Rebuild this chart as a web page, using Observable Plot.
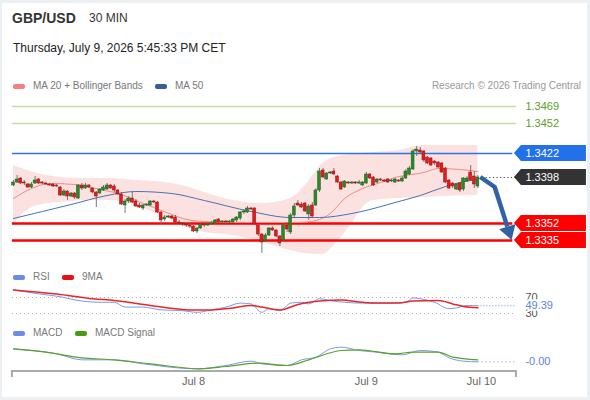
<!DOCTYPE html>
<html><head><meta charset="utf-8">
<script src="https://cdn.jsdelivr.net/npm/d3@7"></script>
<script src="https://cdn.jsdelivr.net/npm/@observablehq/plot@0.6"></script>
<style>
body{margin:0;background:#edf0f3;font-family:"Liberation Sans",Arial,sans-serif;}
#wrap{position:relative;width:590px;height:400px;overflow:hidden;}
#card{position:absolute;left:2px;top:3px;width:585px;height:394px;background:#fff;}
.abs{position:absolute;white-space:nowrap;}
.leg{font-size:10px;color:#777;line-height:12px;}
.sw{position:absolute;width:12px;height:5px;border-radius:2px;}
#wrap svg{position:absolute;left:0;}
</style></head><body>
<div id="wrap"><div id="card"></div>
<div class="abs" style="left:12px;top:10px;font-size:14px;line-height:16px;font-weight:bold;color:#333">GBP/USD</div>
<div class="abs" style="left:89px;top:11px;font-size:12px;line-height:14px;color:#333">30 MIN</div>
<div class="abs" style="left:13px;top:41px;font-size:12px;line-height:14px;color:#222">Thursday, July 9, 2026 5:45:33 PM CET</div>

<div class="sw" style="left:13px;top:83.5px;background:#f77f7f"></div>
<div class="abs leg" style="left:33px;top:80px">MA 20 + Bollinger Bands</div>
<div class="sw" style="left:155px;top:83.5px;background:#375d9c"></div>
<div class="abs leg" style="left:175px;top:80px">MA 50</div>
<div class="abs leg" style="right:9px;top:80px;color:#999">Research © 2026 Trading Central</div>

<div class="sw" style="left:13px;top:274.5px;background:#6b8de3"></div>
<div class="abs leg" style="left:33px;top:271px">RSI</div>
<div class="sw" style="left:62px;top:274.5px;background:#e61010"></div>
<div class="abs leg" style="left:82px;top:271px">9MA</div>

<div class="sw" style="left:13px;top:330.5px;background:#6b8de3"></div>
<div class="abs leg" style="left:33px;top:327px">MACD</div>
<div class="sw" style="left:75px;top:330.5px;background:#4c9a12"></div>
<div class="abs leg" style="left:95px;top:327px">MACD Signal</div>
</div>
<script>
// ---------- DATA ----------
const open = [1.3390,1.3393,1.3397,1.3393,1.3391,1.3388,1.3392,1.3396,1.3393,1.3392, 1.3391,1.3391,1.3390,1.3388,1.3380,1.3384,1.3379,1.3382,1.3377,1.3390, 1.3387,1.3390,1.3387,1.3383,1.3382,1.3385,1.3386,1.3390,1.3389,1.3385, 1.3381,1.3370,1.3374,1.3377,1.3374,1.3370,1.3367,1.3370,1.3370,1.3374, 1.3373,1.3363,1.3356,1.3358,1.3359,1.3358,1.3353,1.3352,1.3351,1.3350, 1.3349,1.3344,1.3347,1.3351,1.3350,1.3351,1.3352,1.3356,1.3353,1.3354, 1.3353,1.3353,1.3355,1.3357,1.3363,1.3363,1.3367,1.3367,1.3350,1.3341, 1.3334,1.3340,1.3347,1.3345,1.3339,1.3335,1.3350,1.3343,1.3360,1.3372, 1.3371,1.3372,1.3361,1.3370,1.3370,1.3385,1.3405,1.3396,1.3402,1.3404, 1.3399,1.3393,1.3388,1.3393,1.3392,1.3393,1.3392,1.3390,1.3392,1.3401, 1.3398,1.3393,1.3396,1.3395,1.3396,1.3394,1.3393,1.3395,1.3394,1.3397, 1.3401,1.3406,1.3424,1.3425,1.3424,1.3418,1.3417,1.3414,1.3413,1.3412, 1.3407,1.3395,1.3392,1.3386,1.3392,1.3386,1.3394,1.3403,1.3399,1.3389];
const high = [1.3395,1.3400,1.3398,1.3395,1.3392,1.3393,1.3399,1.3397,1.3394,1.3393, 1.3392,1.3392,1.3391,1.3389,1.3386,1.3385,1.3383,1.3383,1.3391,1.3392, 1.3392,1.3391,1.3388,1.3384,1.3387,1.3390,1.3392,1.3391,1.3391,1.3386, 1.3383,1.3376,1.3379,1.3383,1.3376,1.3372,1.3371,1.3372,1.3375,1.3375, 1.3374,1.3364,1.3360,1.3360,1.3360,1.3360,1.3355,1.3353,1.3352,1.3352, 1.3350,1.3348,1.3352,1.3352,1.3353,1.3354,1.3356,1.3357,1.3355,1.3355, 1.3355,1.3357,1.3359,1.3364,1.3366,1.3369,1.3368,1.3368,1.3351,1.3342, 1.3342,1.3348,1.3349,1.3346,1.3340,1.3352,1.3353,1.3362,1.3372,1.3375, 1.3373,1.3373,1.3371,1.3373,1.3387,1.3407,1.3407,1.3403,1.3404,1.3407, 1.3400,1.3394,1.3395,1.3394,1.3394,1.3394,1.3395,1.3394,1.3403,1.3402, 1.3399,1.3397,1.3397,1.3396,1.3397,1.3396,1.3397,1.3396,1.3399,1.3406, 1.3409,1.3426,1.3429,1.3428,1.3425,1.3419,1.3418,1.3415,1.3414,1.3413, 1.3408,1.3396,1.3393,1.3392,1.3393,1.3398,1.3399,1.3410,1.3404,1.3400];
const low = [1.3389,1.3392,1.3391,1.3390,1.3387,1.3387,1.3391,1.3391,1.3391,1.3390, 1.3389,1.3388,1.3388,1.3379,1.3379,1.3375,1.3378,1.3376,1.3376,1.3385, 1.3386,1.3387,1.3382,1.3368,1.3381,1.3384,1.3385,1.3386,1.3383,1.3380, 1.3370,1.3362,1.3372,1.3372,1.3368,1.3367,1.3365,1.3369,1.3369,1.3372, 1.3362,1.3350,1.3354,1.3357,1.3356,1.3352,1.3350,1.3349,1.3348,1.3347, 1.3343,1.3342,1.3346,1.3348,1.3349,1.3350,1.3351,1.3352,1.3352,1.3351, 1.3352,1.3352,1.3353,1.3355,1.3361,1.3362,1.3365,1.3350,1.3339,1.3322, 1.3333,1.3339,1.3344,1.3338,1.3329,1.3333,1.3343,1.3341,1.3358,1.3369, 1.3367,1.3363,1.3355,1.3358,1.3369,1.3383,1.3397,1.3395,1.3401,1.3400, 1.3392,1.3385,1.3387,1.3391,1.3391,1.3391,1.3391,1.3389,1.3391,1.3396, 1.3389,1.3392,1.3394,1.3393,1.3392,1.3393,1.3392,1.3393,1.3393,1.3396, 1.3400,1.3405,1.3419,1.3421,1.3413,1.3411,1.3409,1.3410,1.3407,1.3402, 1.3392,1.3386,1.3387,1.3385,1.3383,1.3384,1.3393,1.3394,1.3387,1.3387];
const close = [1.3393,1.3396,1.3392,1.3392,1.3388,1.3391,1.3395,1.3392,1.3392,1.3391, 1.3390,1.3389,1.3389,1.3380,1.3384,1.3379,1.3382,1.3378,1.3390,1.3387, 1.3390,1.3388,1.3383,1.3379,1.3386,1.3388,1.3390,1.3387,1.3385,1.3381, 1.3371,1.3374,1.3377,1.3373,1.3369,1.3368,1.3370,1.3371,1.3374,1.3373, 1.3363,1.3355,1.3358,1.3359,1.3357,1.3353,1.3352,1.3351,1.3350,1.3349, 1.3344,1.3347,1.3351,1.3350,1.3351,1.3352,1.3355,1.3353,1.3354,1.3353, 1.3354,1.3356,1.3358,1.3363,1.3364,1.3367,1.3366,1.3351,1.3341,1.3333, 1.3340,1.3347,1.3345,1.3339,1.3332,1.3350,1.3346,1.3360,1.3369,1.3370, 1.3368,1.3364,1.3369,1.3359,1.3385,1.3404,1.3398,1.3402,1.3403,1.3401, 1.3393,1.3386,1.3394,1.3392,1.3393,1.3392,1.3393,1.3393,1.3401,1.3397, 1.3390,1.3396,1.3395,1.3394,1.3393,1.3395,1.3396,1.3394,1.3397,1.3404, 1.3407,1.3424,1.3426,1.3423,1.3415,1.3412,1.3410,1.3412,1.3408,1.3403, 1.3393,1.3387,1.3389,1.3391,1.3385,1.3397,1.3397,1.3395,1.3391,1.3398];

// moving averages / bands read at sample candles
const ma50Idx = [0,8,16,26,34,44,53,66,77,85,94,99,106,113,120,124,129];
const ma50 = [1.3357,1.3364,1.3371,1.3380,1.3384,1.3382,1.3375,1.3364,1.3358,1.3358,1.3362,1.3366,1.3373,1.3380,1.3389,1.3393,1.3396];
const ma20Idx = [0,5,10,17,24,30,34,39,44,48,53,61,69,79,84,88,92,97,102,106,114,118,124,129];
const ma20 = [1.3377,1.3387,1.3392,1.3391,1.3386,1.3381,1.3375,1.3368,1.3361,1.3356,1.3354,1.3353,1.3353,1.3353,1.3355,1.3362,1.3377,1.3387,1.3393,1.3398,1.3403,1.3407,1.3406,1.3404];
const bbIdx = [0,3,8,13,21,27,34,39,44,49,53,61,69,77,81,86,89,94,97,100,107,114,119,129];
const bbUpper = [1.3410,1.3406,1.3401,1.3398,1.3397,1.3397,1.3395,1.3394,1.3392,1.3388,1.3383,1.3375,1.3372,1.3377,1.3390,1.3412,1.3418,1.3421,1.3422,1.3423,1.3425,1.3430,1.3430,1.3430];
const bbLower = [1.3350,1.3363,1.3371,1.3373,1.3375,1.3375,1.3370,1.3363,1.3355,1.3347,1.3343,1.3340,1.3333,1.3325,1.3322,1.3321,1.3330,1.3352,1.3368,1.3375,1.3377,1.3378,1.3379,1.3380];

// key levels
const levelValues = [1.3469, 1.3452, 1.3422, 1.3398, 1.3352, 1.3335];
const levelTypes = ["target", "target", "resistance", "last", "support", "support"];

// RSI panel
const rsiIdx = [0,7,13,17,24,28,31,36,41,47,51,55,59,63,66,69,71,74,77,80,82,85,88,92,97,101,105,109,111,113,117,121,123,126,129];
const rsi = [89,79,72,64,58,58,46,46,39,37,33,39,46,56,54,33,42,37,56,58,54,67,62,58,56,56,56,58,69,67,58,42,44,50,49.39];
const rsiMaIdx = [0,12,22,28,38,49,55,61,66,69,74,79,85,91,97,101,107,111,118,122,125,129];
const rsiMa = [89,79,67,62.5,50,39,39,44,50,46,39,52.5,61,64,58,56,56,61,62.5,54,47.5,44.5];
const rsiLevels = [70, 30];

// MACD panel
const macdIdx = [0,12,19,28,36,51,59,66,69,76,80,84,88,91,96,101,108,113,118,121,125,129];
const macd = [0.00038,0.00023,0.00005,0.00005,-0.00007,-0.00022,-0.00012,0.00001,-0.00007,-0.00012,0.00005,0.00013,0.00038,0.00043,0.00033,0.00028,0.00020,0.00033,0.00028,0.00011,0.00001,-0.00001];
const signalIdx = [0,9,19,28,38,52,59,68,76,82,91,96,106,111,118,122,129];
const signal = [0.00038,0.00028,0.00011,0.00005,-0.00007,-0.00022,-0.00015,-0.00005,-0.00012,0.00005,0.00033,0.00035,0.00023,0.00028,0.00028,0.00013,0.00005];

// time axis
const xTickIdx = [50, 98, 130];
const xTickLabels = ["Jul 8", "Jul 9", "Jul 10"];

// ---------- BUILD ----------
const W = 590;
const XDOM = [-13 / 3.6, (W - 13) / 3.6];
const LINE_START = -0.3, LINE_END = 139.7, LABEL_X = 142.2;
const LAST = close.length - 1;
const FONT = "'Liberation Sans', Arial, sans-serif";

const candles = close.map((c, i) => ({i, o: open[i], h: high[i], l: low[i], c, up: c >= open[i]}));
const pts = (idx, vals) => idx.map((i, k) => ({i, v: vals[k]}));
const band = bbIdx.map((i, k) => ({i, hi: bbUpper[k], lo: bbLower[k]}));
const levels = levelValues.map((v, k) => ({v, type: levelTypes[k]}));

const boxColor = {resistance: "#2271ea", last: "#333333", support: "#ff0000"};
const lineColor = {target: "#c6dca6", resistance: "#2f73e6", support: "#ff0000"};
const lineWidth = {target: 1.5, resistance: 1.5, support: 2.5};

function boxes(index, scales) {
  const g = d3.create("svg:g");
  for (const d of levels) {
    if (!boxColor[d.type]) continue;
    const y = scales.y(d.v), t = scales.x(LINE_END) - 2;
    g.append("path")
      .attr("d", `M${t},${y}L${t + 7},${y - 8}H${t + 72}V${y + 8}H${t + 7}Z`)
      .attr("fill", boxColor[d.type]);
  }
  return g.node();
}

function arrow(index, scales) {
  const p = [
    [scales.x(LAST + 0.8), scales.y(close[LAST])],
    [scales.x(LAST + 4.8), scales.y(close[LAST] - 0.0010)],
    [scales.x(LINE_END - 1.2), scales.y(levelValues[5])]
  ];
  const [x1, y1] = p[1], [x2, y2] = p[2];
  const len = Math.hypot(x2 - x1, y2 - y1), ux = (x2 - x1) / len, uy = (y2 - y1) / len;
  const hl = 14, hw = 8.5;
  const bx = x2 - ux * hl, by = y2 - uy * hl;
  const g = d3.create("svg:g");
  g.append("path")
    .attr("d", `M${p[0][0]},${p[0][1]}L${x1},${y1}L${bx},${by}`)
    .attr("fill", "none").attr("stroke", "#3262a5").attr("stroke-width", 4.5)
    .attr("stroke-linejoin", "round");
  g.append("path")
    .attr("d", `M${x2},${y2}L${bx - uy * hw},${by + ux * hw}L${bx + uy * hw},${by - ux * hw}Z`)
    .attr("fill", "#3262a5");
  return g.node();
}

const wrap = document.getElementById("wrap");
function place(svg, top) { svg.style.top = top + "px"; wrap.appendChild(svg); }

const common = {width: W, marginLeft: 0, marginRight: 0,
  style: {background: "transparent", fontFamily: FONT, overflow: "visible"}};
const xScale = {domain: XDOM, range: [0, W], axis: null};

// price panel
const price = Plot.plot({
  ...common, height: 165, marginTop: 0, marginBottom: 0,
  x: xScale,
  y: {domain: [1.3314, 1.3479], range: [165, 0], axis: null},
  marks: [
    Plot.areaY(band, {x: "i", y1: "lo", y2: "hi", fill: "#fcdcdc", fillOpacity: 0.85, curve: "monotone-x"}),
    ...["target", "resistance", "support"].map(t =>
      Plot.ruleY(levels.filter(d => d.type === t), {y: "v", x1: LINE_START, x2: t === "target" ? LINE_END : LINE_END - 1, stroke: lineColor[t], strokeWidth: lineWidth[t]})),
    Plot.line(pts(ma20Idx, ma20), {x: "i", y: "v", stroke: "#f08a8a", strokeWidth: 1, curve: "monotone-x"}),
    Plot.line(pts(ma50Idx, ma50), {x: "i", y: "v", stroke: "#4a72b0", strokeWidth: 1, curve: "monotone-x"}),
    Plot.ruleX(candles, {x: "i", y1: "l", y2: "h", stroke: "#6b6b6b", strokeWidth: 0.9}),
    Plot.rect(candles.filter(d => d.up), {x1: d => d.i - 0.4, x2: d => d.i + 0.4, y1: "o", y2: "c", fill: "#2a8a2a", stroke: "#1c5c1c", strokeWidth: 0.5}),
    Plot.rect(candles.filter(d => !d.up), {x1: d => d.i - 0.4, x2: d => d.i + 0.4, y1: "o", y2: "c", fill: "#e41b1b", stroke: "#9c1010", strokeWidth: 0.5}),
    Plot.ruleY([close[LAST]], {x1: LAST + 1.3, x2: LINE_END, stroke: "#444", strokeDasharray: "1.2,2.4"}),
    boxes,
    Plot.text(levels.filter(d => d.type === "target"), {x: LABEL_X, y: "v", text: d => d.v.toFixed(4), fill: "#5b9f1f", textAnchor: "start", fontSize: 11}),
    Plot.text(levels.filter(d => d.type !== "target"), {x: LABEL_X, y: "v", text: d => d.v.toFixed(4), fill: "white", textAnchor: "start", fontSize: 11}),
    arrow
  ]
});
place(price, 96);

// RSI panel
const rsiLast = rsi[rsi.length - 1];
const rsiPlot = Plot.plot({
  ...common, height: 44, marginTop: 0, marginBottom: 0,
  x: xScale,
  y: {domain: [0, 100], range: [42, 2], axis: null},
  marks: [
    Plot.ruleY(rsiLevels, {y: d => d, x1: LINE_START, x2: LINE_END, stroke: "#aaa", strokeDasharray: "1,3"}),
    Plot.ruleY([rsiLast], {x1: rsiIdx[rsiIdx.length - 1], x2: LINE_END, stroke: "#6f8fe0", strokeDasharray: "1,2"}),
    Plot.line(pts(rsiIdx, rsi), {x: "i", y: "v", stroke: "#7b9ae8", strokeWidth: 1, curve: "monotone-x"}),
    Plot.line(pts(rsiMaIdx, rsiMa), {x: "i", y: "v", stroke: "#e8262a", strokeWidth: 1.5, curve: "monotone-x"}),
    Plot.text(rsiLevels, {x: LABEL_X, y: d => d, text: d => String(d), fill: "#555", textAnchor: "start", fontSize: 11}),
    Plot.text([rsiLast], {x: LABEL_X, y: d => d, text: d => d.toFixed(2), fill: "#5f82e0", stroke: "white", strokeWidth: 4, textAnchor: "start", fontSize: 11})
  ]
});
place(rsiPlot, 283);

// MACD panel
const macdLast = macd[macd.length - 1];
function axisLine(index, scales, values, dims) {
  const y = dims.height - dims.marginBottom, a = scales.x(LINE_START), b = scales.x(LINE_END);
  const g = d3.create("svg:g").attr("stroke", "#aaa").attr("stroke-width", 2).attr("fill", "none");
  g.append("path").attr("d", `M${a},${y + 6}V${y}H${b}V${y + 6}`);
  return g.node();
}
const macdPlot = Plot.plot({
  ...common, height: 56, marginTop: 0, marginBottom: 23,
  x: xScale,
  y: {domain: [-0.0003, 0.00069], range: [33, 0], axis: null},
  marks: [
    Plot.ruleY([macdLast], {x1: macdIdx[macdIdx.length - 1], x2: LINE_END, stroke: "#6f8fe0", strokeDasharray: "1,3"}),
    Plot.line(pts(macdIdx, macd), {x: "i", y: "v", stroke: "#7b9ae8", strokeWidth: 1, curve: "monotone-x"}),
    Plot.line(pts(signalIdx, signal), {x: "i", y: "v", stroke: "#5aa02a", strokeWidth: 1.2, curve: "monotone-x"}),
    Plot.text([macdLast], {x: LABEL_X, y: d => d, text: d => d.toFixed(2), fill: "#5f82e0", textAnchor: "start", fontSize: 11}),
    axisLine,
    Plot.text(xTickIdx.map((i, k) => ({i, t: xTickLabels[k]})), {x: "i", text: "t", frameAnchor: "bottom", dy: 13, fill: "#666", fontSize: 11})
  ]
});
place(macdPlot, 338);
</script>
</body></html>
